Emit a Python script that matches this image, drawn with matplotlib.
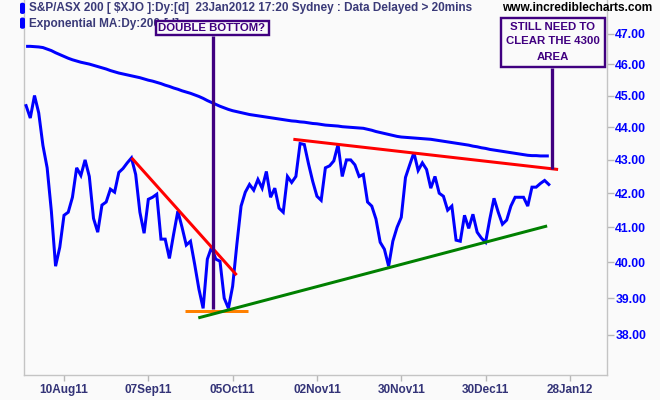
import matplotlib
matplotlib.use('Agg')
import matplotlib.pyplot as plt
from matplotlib.patches import Rectangle, FancyBboxPatch
from matplotlib.lines import Line2D
from matplotlib.ticker import FixedLocator, FixedFormatter, NullLocator

# ---------------- data ----------------
day_index = list(range(-9, 116))   # trading-day index, 0 = 10Aug11

price = [44.68, 44.29, 45.00, 44.45, 43.44, 42.76, 41.47, 39.89, 40.43,
         41.35, 41.44, 41.88, 42.76, 42.53, 43.00, 42.50, 41.26, 40.86, 41.65,
         41.74, 42.12, 42.03, 42.62, 42.74, 42.91, 43.06, 42.56, 41.44, 40.83,
         41.82, 41.88, 41.97, 40.66, 40.66, 40.11, 40.80, 41.47, 41.00, 40.49,
         40.60, 39.94, 39.25, 38.72, 40.09, 40.43, 40.09, 40.03, 39.00, 38.72,
         39.33, 40.51, 41.62, 42.03, 42.26, 42.09, 42.41, 42.15, 42.65, 41.88,
         42.15, 41.56, 41.44, 42.50, 42.32, 42.50, 43.50, 43.47, 42.88, 42.35,
         41.91, 41.79, 42.76, 42.82, 42.97, 43.47, 42.50, 43.00, 43.00, 42.85,
         42.50, 42.56, 41.74, 41.62, 41.24, 40.57, 40.37, 39.89, 40.60, 41.00,
         41.29, 42.47, 42.85, 43.22, 42.68, 42.91, 42.71, 42.15, 42.50, 42.00,
         41.91, 41.50, 41.62, 40.63, 40.60, 41.35, 40.97, 41.38, 40.86, 40.69,
         40.57, 41.24, 41.85, 41.44, 41.09, 41.21, 41.62, 41.88, 41.88, 41.88,
         41.62, 42.18, 42.18, 42.29, 42.38, 42.26]

ema200 = [46.59, 46.59, 46.58, 46.57, 46.55, 46.50, 46.45, 46.38, 46.32,
          46.26, 46.20, 46.15, 46.11, 46.07, 46.04, 46.01, 45.97, 45.93, 45.89,
          45.85, 45.80, 45.76, 45.72, 45.69, 45.66, 45.63, 45.60, 45.57, 45.53,
          45.49, 45.46, 45.42, 45.38, 45.33, 45.29, 45.24, 45.20, 45.15, 45.11,
          45.07, 45.02, 44.97, 44.91, 44.84, 44.78, 44.72, 44.66, 44.61, 44.56,
          44.52, 44.49, 44.46, 44.43, 44.40, 44.38, 44.36, 44.34, 44.32, 44.30,
          44.28, 44.26, 44.24, 44.22, 44.20, 44.19, 44.17, 44.16, 44.14, 44.12,
          44.11, 44.09, 44.07, 44.06, 44.05, 44.04, 44.02, 44.01, 44.00, 43.99,
          43.98, 43.97, 43.94, 43.91, 43.87, 43.84, 43.81, 43.78, 43.75, 43.72,
          43.70, 43.69, 43.68, 43.67, 43.66, 43.65, 43.64, 43.63, 43.61, 43.59,
          43.57, 43.55, 43.53, 43.51, 43.49, 43.47, 43.45, 43.42, 43.40, 43.37,
          43.35, 43.32, 43.30, 43.28, 43.26, 43.24, 43.22, 43.20, 43.18, 43.16,
          43.14, 43.13, 43.13, 43.12, 43.12, 43.12]

x_tick_index = [0, 20, 40, 60, 80, 100, 120]
x_tick_labels = ['10Aug11', '07Sep11', '05Oct11', '02Nov11', '30Nov11', '30Dec11', '28Jan12']
y_ticks = [38, 39, 40, 41, 42, 43, 44, 45, 46, 47]

# hand-drawn trend lines (trading-day index, value)
downtrend_x, downtrend_y = [16.05, 40.95], [43.06, 39.64]
resistance_x, resistance_y = [54.4, 117.2], [43.63, 42.71]
support_x, support_y = [31.85, 114.6], [38.46, 41.04]
bottom_x, bottom_y = [28.7, 43.7], [38.66, 38.66]

# ---------------- figure ----------------
W, H = 660, 400
BG = '#fafafa'
PURPLE = '#400080'
HEAD = '#3a3a78'
FONT = ['Liberation Sans', 'DejaVu Sans']

def fx(x):
    return x / W

def fy(y):
    return 1 - y / H

def px2pt(p):
    return p * 72 / 100

fig = plt.figure(figsize=(W / 100, H / 100), dpi=100, facecolor=BG)
ax = fig.add_axes([fx(24), fy(375), fx(607) - fx(24), fy(0) - fy(375)])
ax.set_facecolor(BG)

ax.plot(day_index, ema200, color='#0000ff', lw=px2pt(3), solid_capstyle='butt', zorder=3)
ax.plot(day_index, price, color='#0000ff', lw=px2pt(3), solid_joinstyle='miter', zorder=4)
ax.plot(bottom_x, bottom_y, color='#ff8000', lw=px2pt(3), solid_capstyle='butt', zorder=5)
ax.plot(support_x, support_y, color='#008000', lw=px2pt(3), solid_capstyle='butt', zorder=6)
ax.plot(downtrend_x, downtrend_y, color='#ff0000', lw=px2pt(3), solid_capstyle='butt', zorder=6)
ax.plot(resistance_x, resistance_y, color='#ff0000', lw=px2pt(3), solid_capstyle='butt', zorder=6)

ax.set_yscale('log')
ax.set_xlim(-9.49, 128.8)
ax.set_ylim(36.94, 48.14)

ax.xaxis.set_major_locator(FixedLocator(x_tick_index))
ax.xaxis.set_major_formatter(FixedFormatter(x_tick_labels))
ax.yaxis.set_major_locator(FixedLocator(y_ticks))
ax.yaxis.set_major_formatter(FixedFormatter(['%.2f' % v for v in y_ticks]))
ax.yaxis.set_minor_locator(NullLocator())
ax.xaxis.set_minor_locator(NullLocator())
ax.yaxis.tick_right()

ax.tick_params(axis='x', direction='out', length=4, width=1, color='#b8b8b8',
               pad=2.5, labelsize=8.5, labelcolor='#333377')
ax.tick_params(axis='y', direction='out', length=5, width=1, color='#b8b8b8',
               pad=1, labelsize=8.8, labelcolor='#0000ff')
for lab in ax.get_xticklabels() + ax.get_yticklabels():
    lab.set_fontfamily(FONT)
    lab.set_fontweight('bold')

for side in ['left', 'right', 'bottom']:
    ax.spines[side].set_color('#c4c4c4')
    ax.spines[side].set_linewidth(1)
ax.spines['top'].set_visible(False)

# ---------------- header texts ----------------
for yy in (2.7, 17.5):
    fig.add_artist(FancyBboxPatch((fx(20), fy(yy + 11.3)), fx(5) - fx(0), fy(0) - fy(11.3),
                                  boxstyle='round,pad=0,rounding_size=0.004',
                                  transform=fig.transFigure, fc='#0000ff', ec='none', zorder=10))

fig.text(fx(29), fy(8.5), 'S&P/ASX 200 [ \\$XJO ]:Dy:[d]  23Jan2012 17:20 Sydney : Data Delayed > 20mins',
         family=FONT, weight='bold', size=8.5, color=HEAD, ha='left', va='center', zorder=10)
fig.text(fx(29), fy(24), 'Exponential MA:Dy:200:[d]',
         family=FONT, weight='bold', size=8.5, color=HEAD, ha='left', va='center', zorder=10)
fig.text(fx(652), fy(8), 'www.incrediblecharts.com',
         family=FONT, weight='bold', size=8.6, color='black', ha='right', va='center', zorder=10)

# ---------------- annotation boxes ----------------
blw = px2pt(2.4)
fig.add_artist(Rectangle((fx(155.5), fy(35.2)), fx(268.8) - fx(155.5), fy(21) - fy(35.2),
                         transform=fig.transFigure, fc=BG, ec=PURPLE, lw=blw, zorder=12))
fig.text(fx(212), fy(28.2), 'DOUBLE BOTTOM?', family=FONT, weight='bold', size=8.2,
         color=PURPLE, ha='center', va='center', zorder=13)
fig.add_artist(Line2D([fx(213.3), fx(213.3)], [fy(36), fy(309)], transform=fig.transFigure,
                      color=PURPLE, lw=px2pt(3.3), solid_capstyle='butt', zorder=11))

fig.add_artist(Rectangle((fx(500.5), fy(67.2)), fx(605) - fx(500.5), fy(18.3) - fy(67.2),
                         transform=fig.transFigure, fc=BG, ec=PURPLE, lw=blw, zorder=12))
for txt, yy in (('STILL NEED TO', 26.5), ('CLEAR THE 4300', 41.5), ('AREA', 56.5)):
    fig.text(fx(552.5), fy(yy), txt, family=FONT, weight='bold', size=8.2,
             color=PURPLE, ha='center', va='center', zorder=13)
fig.add_artist(Line2D([fx(552.3), fx(552.3)], [fy(68), fy(169)], transform=fig.transFigure,
                      color=PURPLE, lw=px2pt(3.3), solid_capstyle='butt', zorder=11))

fig.savefig('out.png', dpi=100, facecolor=BG)
